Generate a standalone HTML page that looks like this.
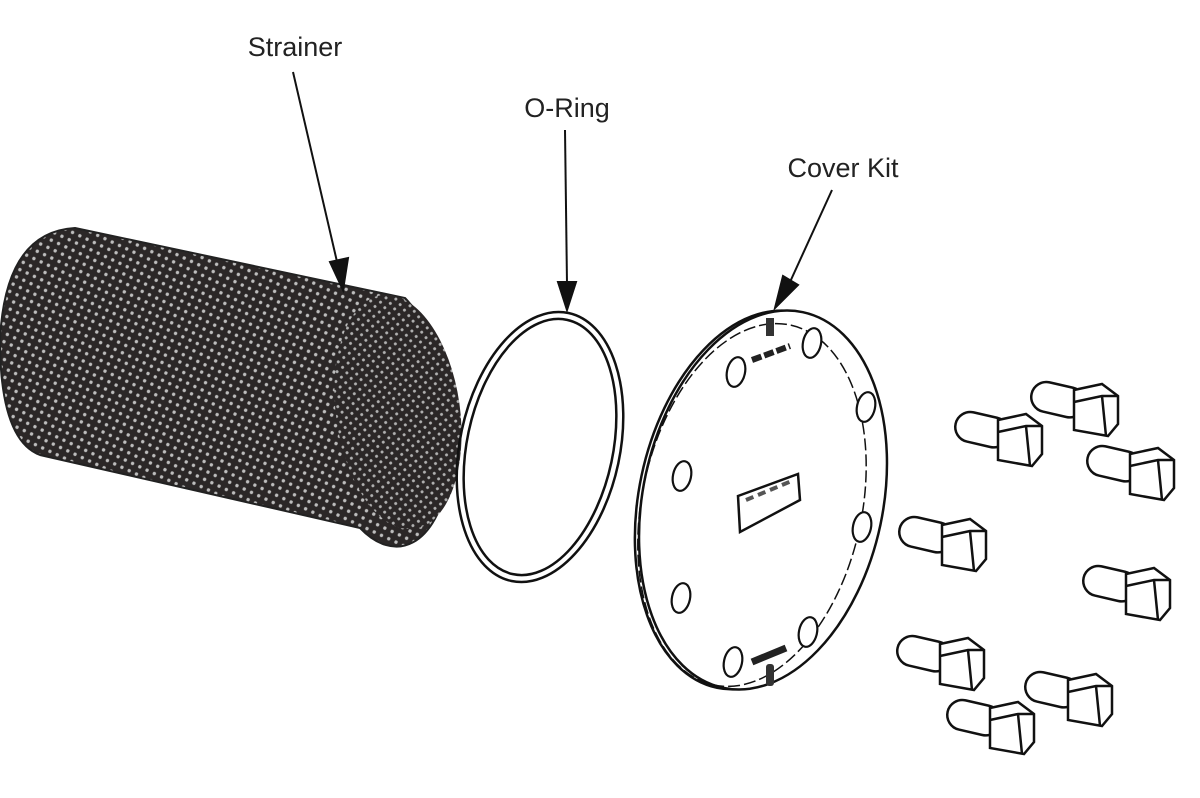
<!DOCTYPE html>
<html><head><meta charset="utf-8"><style>
html,body{margin:0;padding:0;background:#fff;}
svg{display:block}
text{font-family:"Liberation Sans",sans-serif;font-size:27px;fill:#222}
</style></head><body>
<svg width="1200" height="798" viewBox="0 0 1200 798" xmlns="http://www.w3.org/2000/svg">
<defs>
<pattern id="mesh" width="8" height="8" patternUnits="userSpaceOnUse" patternTransform="rotate(25)">
<rect width="8" height="8" fill="#2b2727"/>
<circle cx="4" cy="4" r="1.7" fill="#bdbdbd"/>
</pattern>
<pattern id="mesh2" width="7" height="7" patternUnits="userSpaceOnUse" patternTransform="rotate(-30)">
<rect width="7" height="7" fill="#2b2727"/>
<circle cx="3.5" cy="3.5" r="1.5" fill="#b0b0b0"/>
</pattern>
<g id="bolt">
<g transform="rotate(13)">
<rect x="-64" y="-15" width="54" height="30" rx="15" fill="#fff" stroke="#111" stroke-width="2.5"/>
</g>
<path d="M-20,-18 L8,-24 L24,-12 L24,16 L14,28 L-20,22 Z" fill="#fff" stroke="#111" stroke-width="2.5"/>
<path d="M-20,-6 L8,-12 L24,-12 M8,-12 L12,28" fill="none" stroke="#111" stroke-width="2.5"/>
</g>
</defs>

<!-- Strainer -->
<path d="M75,228 L405,298 A62,124 -8 0 1 360,528 L40,455 Q0,440 0,340 Q5,232 75,228 Z" fill="url(#mesh)" stroke="#222" stroke-width="2"/>
<ellipse cx="398" cy="412" rx="62" ry="118" transform="rotate(-8 398 412)" fill="url(#mesh2)" stroke="none"/>

<!-- O-ring -->
<ellipse cx="540" cy="447" rx="80" ry="137" transform="rotate(12 540 447)" fill="none" stroke="#111" stroke-width="2.5"/>
<ellipse cx="540" cy="447" rx="73" ry="130" transform="rotate(12 540 447)" fill="none" stroke="#111" stroke-width="2.5"/>

<!-- Cover -->
<ellipse cx="757" cy="500" rx="118" ry="192" transform="rotate(12 757 500)" fill="#fff" stroke="#111" stroke-width="2.5"/>
<ellipse cx="763" cy="500" rx="120" ry="192" transform="rotate(12 763 500)" fill="#fff" stroke="#111" stroke-width="2.5"/>
<ellipse cx="752" cy="505" rx="110" ry="184" transform="rotate(12 752 505)" fill="none" stroke="#111" stroke-width="1.5" stroke-dasharray="12 4"/>
<g fill="#fff" stroke="#111" stroke-width="2.2">
<ellipse cx="736" cy="372" rx="9" ry="15" transform="rotate(12 736 372)"/>
<ellipse cx="812" cy="343" rx="9" ry="15" transform="rotate(12 812 343)"/>
<ellipse cx="866" cy="407" rx="9" ry="15" transform="rotate(12 866 407)"/>
<ellipse cx="682" cy="476" rx="9" ry="15" transform="rotate(12 682 476)"/>
<ellipse cx="862" cy="527" rx="9" ry="15" transform="rotate(12 862 527)"/>
<ellipse cx="681" cy="598" rx="9" ry="15" transform="rotate(12 681 598)"/>
<ellipse cx="808" cy="632" rx="9" ry="15" transform="rotate(12 808 632)"/>
<ellipse cx="733" cy="662" rx="9" ry="15" transform="rotate(12 733 662)"/>
</g>
<path d="M738,496 L798,474 L800,500 L740,532 Z" fill="#fff" stroke="#111" stroke-width="2.5"/>
<path d="M746,500 L794,480" stroke="#555" stroke-width="4" stroke-dasharray="8 5"/>
<path d="M752,360 L790,346" stroke="#222" stroke-width="6" stroke-dasharray="10 3"/>
<rect x="766" y="318" width="8" height="18" fill="#333"/>
<path d="M752,662 L786,648" stroke="#222" stroke-width="7"/>
<rect x="766" y="664" width="8" height="22" rx="3" fill="#333"/>

<!-- Bolts -->
<use href="#bolt" transform="translate(1094,408)"/>
<use href="#bolt" transform="translate(1018,438)"/>
<use href="#bolt" transform="translate(1150,472)"/>
<use href="#bolt" transform="translate(962,543)"/>
<use href="#bolt" transform="translate(1146,592)"/>
<use href="#bolt" transform="translate(960,662)"/>
<use href="#bolt" transform="translate(1088,698)"/>
<use href="#bolt" transform="translate(1010,726)"/>

<!-- Labels & leaders -->
<text x="295" y="56" text-anchor="middle">Strainer</text>
<text x="567" y="117" text-anchor="middle">O-Ring</text>
<text x="843" y="177" text-anchor="middle">Cover Kit</text>
<g stroke="#111" stroke-width="2" fill="#111">
<line x1="293" y1="72" x2="338" y2="266"/>
<path d="M330,262 L348,258 L343,290 Z"/>
<line x1="565" y1="130" x2="567" y2="284"/>
<path d="M558,282 L576,282 L567,310 Z"/>
<line x1="832" y1="190" x2="790" y2="282"/>
<path d="M783,276 L798,285 L775,308 Z"/>
</g>
</svg>
</body></html>
